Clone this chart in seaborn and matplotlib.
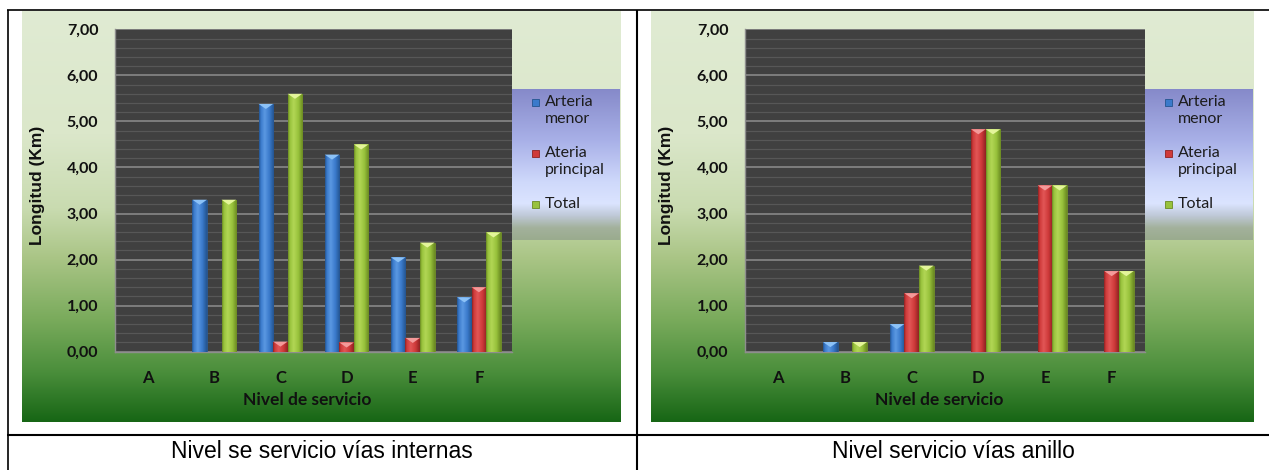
import numpy as np
import pandas as pd
import seaborn as sns
import matplotlib
matplotlib.use("Agg")
import matplotlib.pyplot as plt
from matplotlib import font_manager
from matplotlib.colors import LinearSegmentedColormap, to_rgb
from matplotlib.patches import Rectangle, Polygon
from matplotlib.lines import Line2D
from matplotlib.ticker import MultipleLocator, FixedLocator, FuncFormatter

# ---- data -------------------------------------------------------------
categories = ["A", "B", "C", "D", "E", "F"]
series = ["Arteria menor", "Ateria principal", "Total"]
legend_labels = ["Arteria\nmenor", "Ateria\nprincipal", "Total"]

internas_menor = [0.00, 3.30, 5.38, 4.28, 2.05, 1.18]
internas_principal = [0.00, 0.00, 0.22, 0.20, 0.30, 1.40]
internas_total = [0.00, 3.30, 5.60, 4.50, 2.37, 2.59]

anillo_menor = [0.00, 0.21, 0.60, 0.00, 0.00, 0.00]
anillo_principal = [0.00, 0.00, 1.27, 4.83, 3.61, 1.75]
anillo_total = [0.00, 0.21, 1.87, 4.83, 3.61, 1.75]

captions = ["Nivel se servicio vías internas", "Nivel servicio vías anillo"]
y_title = "Longitud (Km)"
x_title = "Nivel de servicio"

# ---- style ------------------------------------------------------------
sns.set_theme(style="white")
installed = {f.name for f in font_manager.fontManager.ttflist}
NARROW = "Liberation Sans Narrow" if "Liberation Sans Narrow" in installed else "Lato"
ARIAL = "Liberation Sans"
plt.rcParams["font.family"] = [NARROW, "DejaVu Sans"]

bar_colors = {
    "Arteria menor": ("#3a7acb", "#24548f", "#5b98e2", "#8cc2f7"),
    "Ateria principal": ("#cf3a3a", "#8f2222", "#e25656", "#f39a9a"),
    "Total": ("#98c23c", "#6b8a22", "#b2d655", "#e4f59a"),
}

W, H = 1269, 470
fig = plt.figure(figsize=(W / 100, H / 100), dpi=100)
fig.patch.set_facecolor("white")


def box(x0, y0, x1, y1):
    return fig.add_axes([x0 / W, 1 - y1 / H, (x1 - x0) / W, (y1 - y0) / H])


def vgradient(ax, stops):
    cmap = LinearSegmentedColormap.from_list("g", stops)
    grad = np.linspace(0, 1, 256).reshape(-1, 1)
    ax.imshow(grad, cmap=cmap, aspect="auto", extent=[0, 1, 0, 1],
              origin="upper", interpolation="bilinear")
    ax.set_xlim(0, 1)
    ax.set_ylim(0, 1)
    ax.axis("off")


chart_stops = [(0.0, "#e0ebd3"), (0.30, "#dbe7ca"), (0.48, "#c9dbb0"),
               (0.60, "#aac586"), (0.75, "#7aab5c"), (0.88, "#4a8e3b"),
               (1.0, "#176615")]
legend_stops = [(0.0, "#8589c9"), (0.35, "#a9b1e8"), (0.62, "#cfd9fb"),
                (0.76, "#dbe4ff"), (0.84, "#bfc9d8"), (0.92, "#a3b19c"),
                (1.0, "#9aab8e")]


def shade_bars(ax, n_before):
    bars = [p for p in ax.patches[n_before:] if isinstance(p, Rectangle)]
    for p in bars:
        h = p.get_height()
        if h <= 0:
            p.set_visible(False)
            continue
        fc = p.get_facecolor()
        key = None
        for name, cols in bar_colors.items():
            if np.allclose(fc[:3], to_rgb(cols[0]), atol=0.02):
                key = name
        if key is None:
            continue
        base, dark, light, top = bar_colors[key]
        x0, w = p.get_x(), p.get_width()
        cmap = LinearSegmentedColormap.from_list(
            "b", [(0.0, dark), (0.12, base), (0.38, light), (0.7, base), (1.0, dark)])
        im = ax.imshow(np.linspace(0, 1, 64).reshape(1, -1), cmap=cmap,
                       aspect="auto", extent=[x0, x0 + w, 0, h],
                       interpolation="bilinear", zorder=p.get_zorder() + 0.1)
        im.set_clip_path(p)
        d = min(0.11, h)
        tri = Polygon([[x0, h], [x0 + w, h], [x0 + w / 2, h - d]],
                      closed=True, facecolor=top, edgecolor="none",
                      zorder=p.get_zorder() + 0.2)
        ax.add_patch(tri)
        p.set_edgecolor(dark)
        p.set_linewidth(0.5)


def draw_chart(cx0, cx1, px0, px1, lx1, menor, principal, total):
    # chart area background
    bg = box(cx0, 11, cx1, 422)
    vgradient(bg, chart_stops)

    # legend panel
    lg = box(px1, 89, lx1, 240)
    vgradient(lg, legend_stops)
    entry_y = [103, 154, 205]
    for name, lab, yy in zip(series, legend_labels, entry_y):
        base, dark, light, top = bar_colors[name]
        sq_x = px1 + 20
        lg.add_patch(Rectangle(((sq_x - px1) / (lx1 - px1), (240 - yy - 3.5) / 151),
                               7 / (lx1 - px1), 7 / 151, transform=lg.transAxes,
                               facecolor=base, edgecolor=dark, lw=0.6))
        lg.text((sq_x + 13 - px1) / (lx1 - px1), (240 - yy) / 151 + 0.05, lab,
                transform=lg.transAxes, ha="left", va="top", fontsize=11.5,
                color="#1c1c1c", linespacing=1.2, family=[NARROW, "DejaVu Sans"])

    # plot area
    ax = box(px0, 29.3, px1, 351.7)
    df = pd.DataFrame({
        "nivel": categories * 3,
        "tipo": [s for s in series for _ in categories],
        "longitud": list(menor) + list(principal) + list(total),
    })
    n0 = len(ax.patches)
    sns.barplot(data=df, x="nivel", y="longitud", hue="tipo", order=categories,
                hue_order=series, palette=[bar_colors[s][0] for s in series],
                width=0.66, saturation=1, gap=0, legend=False, ax=ax, zorder=3)
    shade_bars(ax, n0)

    ax.set_facecolor("#404040")
    ax.set_xlim(-0.5, len(categories) - 0.5)
    ax.set_ylim(0, 7)
    ax.yaxis.set_major_locator(MultipleLocator(1))
    ax.yaxis.set_minor_locator(MultipleLocator(0.2))
    ax.yaxis.set_major_formatter(FuncFormatter(lambda v, _: f"{v:.2f}".replace(".", ",")))
    ax.xaxis.set_minor_locator(FixedLocator(np.arange(-0.5, len(categories), 1.0)))
    ax.grid(which="minor", axis="y", color="#575757", lw=0.9)
    ax.grid(which="major", axis="y", color="#8e8e8e", lw=1.1)
    ax.grid(which="both", axis="x", visible=False)
    ax.set_axisbelow(True)
    for side in ("top", "right"):
        ax.spines[side].set_visible(False)
    for side in ("left", "bottom"):
        ax.spines[side].set_color("#8e8e8e")
        ax.spines[side].set_linewidth(1.0)
    ax.tick_params(axis="y", which="major", length=4, width=1, color="#8e8e8e",
                   pad=8, labelsize=11.5, labelcolor="#111111")
    ax.tick_params(axis="y", which="minor", length=0)
    ax.tick_params(axis="x", which="major", length=0, pad=13, labelsize=12,
                   labelcolor="#111111")
    ax.tick_params(axis="x", which="minor", length=5, width=1, color="#8e8e8e")
    for t in ax.get_xticklabels() + ax.get_yticklabels():
        t.set_fontweight("bold")

    ax.set_xlabel(x_title, fontsize=12.5, fontweight="bold", color="#111111")
    ax.xaxis.set_label_coords(0.485, (351.7 - 400) / 322.4)
    ax.xaxis.label.set_va("center")
    ax.set_ylabel(y_title, fontsize=12.5, fontweight="bold", color="#111111",
                  family=ARIAL)
    ax.yaxis.set_label_coords(-(px0 - (cx0 + 15)) / (px1 - px0), 0.515)
    ax.yaxis.label.set_va("center")
    return ax


draw_chart(22, 621, 115, 512, 620, internas_menor, internas_principal, internas_total)
draw_chart(651, 1254, 745, 1145, 1253, anillo_menor, anillo_principal, anillo_total)

# ---- table frame and captions ----------------------------------------
def hline(y, x0, x1, lw):
    fig.add_artist(Line2D([x0 / W, x1 / W], [1 - y / H, 1 - y / H],
                          transform=fig.transFigure, color="black", lw=lw,
                          solid_capstyle="butt"))


def vline(x, y0, y1, lw):
    fig.add_artist(Line2D([x / W, x / W], [1 - y0 / H, 1 - y1 / H],
                          transform=fig.transFigure, color="black", lw=lw,
                          solid_capstyle="butt"))


hline(10.3, 7, W, 1.2)
hline(434.5, 7, W, 1.5)
vline(7.8, 9.5, H, 1.2)
vline(637, 9.5, H, 1.5)

fig.text(322 / W, 1 - 452 / H, captions[0], ha="center", va="center",
         fontsize=16.5, family=ARIAL, color="black")
fig.text(953 / W, 1 - 452 / H, captions[1], ha="center", va="center",
         fontsize=16.5, family=ARIAL, color="black")

fig.savefig("out.png", dpi=100, facecolor="white")
